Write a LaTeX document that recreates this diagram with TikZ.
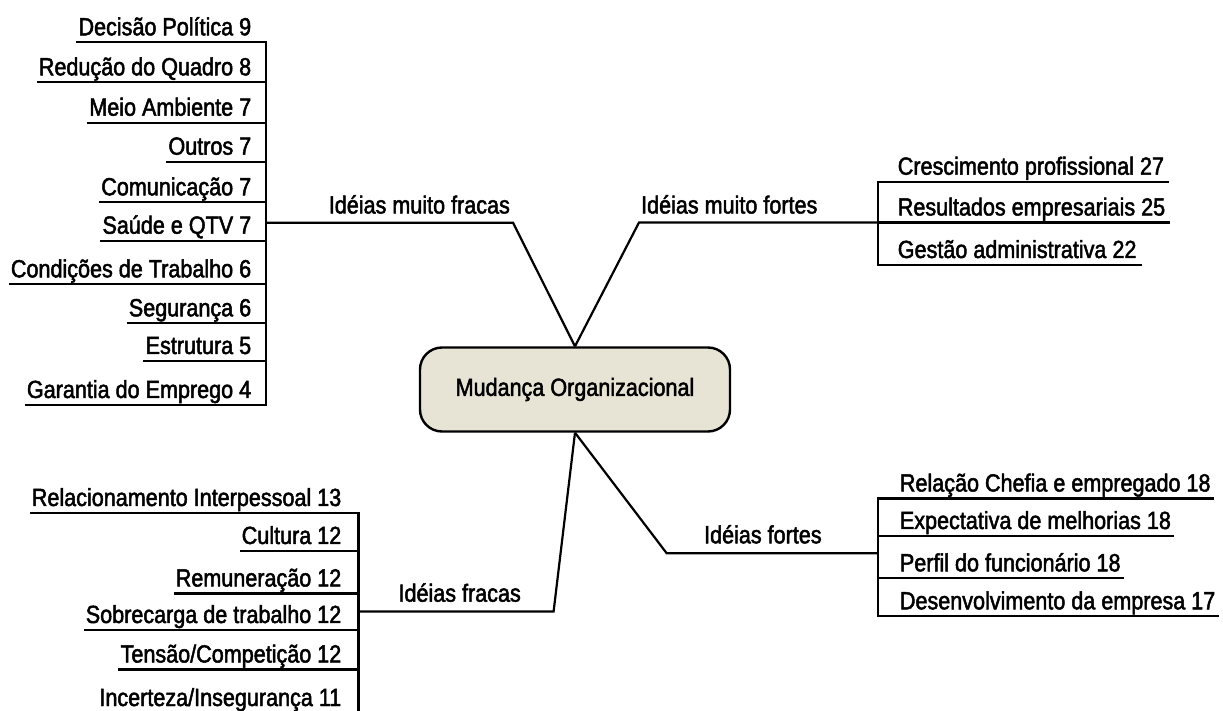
\documentclass[tikz,border=0pt]{standalone}
\usepackage{fontspec}
\setmainfont{Liberation Sans}[FakeStretch=0.87,FakeBold=2]
\definecolor{caixa}{RGB}{231,227,213}

\begin{document}
\begin{tikzpicture}[x=0.5pt,y=-0.5pt,line width=1.1pt,
    every node/.style={font=\fontsize{12.4}{15}\selectfont,inner sep=0pt},
    traco/.style={line cap=rect}]
    \useasboundingbox (0,0) rectangle (1223,711);

    \node[draw,fill=caixa,rounded corners=11pt,line width=1.2pt,
      minimum width=155pt,minimum height=42pt] (mo) at (575,389.5)
      {Mudança Organizacional};

    % Idéias muito fracas
    \foreach \y/\t [count=\i] in {42.3/Decisão Política 9, 82.3/Redução do Quadro 8,
        122.7/Meio Ambiente 7, 161.7/Outros 7, 202.3/Comunicação 7, 240.7/Saúde e QTV 7,
        284.3/Condições de Trabalho 6, 323.3/Segurança 6, 361/Estrutura 5,
        405/Garantia do Emprego 4}{
      \coordinate (mfru\i) at (265.7,\y);
      \node[anchor=base east] (mfr\i) at ([shift={(-13.4,-7)}]mfru\i) {\t};
      \draw[traco] (mfr\i.west |- mfru\i) -- (mfru\i);
    }
    \draw[traco] (mfru1) -- (mfru10);
    \coordinate (mfrc) at (513,222.7);
    \coordinate (mfrb) at (265.7,222.7);
    \draw (mo.north) -- (mfrc) -- (mfrb);
    \node[anchor=base east] (lmfr) at ([shift={(-2,-9.2)}]mfrc) {Idéias muito fracas};

    % Idéias muito fortes
    \foreach \y/\t [count=\i] in {181.7/Crescimento profissional 27,
        222.5/Resultados empresariais 25, 265/Gestão administrativa 22}{
      \coordinate (mftu\i) at (878.3,\y);
      \node[anchor=base west] (mft\i) at ([shift={(18.4,-7)}]mftu\i) {\t};
      \draw[traco] (mftu\i) -- ([xshift=1.5pt]mft\i.east |- mftu\i);
    }
    \draw[traco] (mftu1) -- (mftu3);
    \coordinate (mftc) at (639,222.5);
    \draw (mo.north) -- (mftc) -- (mftu2);
    \node[anchor=base west] (lmft) at ([shift={(1,-9)}]mftc) {Idéias muito fortes};

    % Idéias fracas
    \foreach \y/\t [count=\i] in {513/Relacionamento Interpessoal 13, 551/Cultura 12,
        593.5/Remuneração 12, 630/Sobrecarga de trabalho 12,
        669.5/{Tensão/Competição 12}, 713/{Incerteza/Insegurança 11}}{
      \coordinate (fru\i) at (358.5,\y);
      \node[anchor=base east] (fr\i) at ([shift={(-16.1,-7)}]fru\i) {\t};
      \draw[traco] (fr\i.west |- fru\i) -- (fru\i);
    }
    \draw[traco] (fru1) -- (fru6);
    \coordinate (frc) at (553.6,611.5);
    \coordinate (frb) at (358.5,611.5);
    \draw (mo.south) -- (frc) -- (frb);
    \node[anchor=base west] (lfr) at (397.4,601.7) {Idéias fracas};

    % Idéias fortes
    \foreach \y/\t [count=\i] in {498.5/Relação Chefia e empregado 18,
        536/Expectativa de melhorias 18, 578.3/Perfil do funcionário 18,
        616.3/Desenvolvimento da empresa 17}{
      \coordinate (ftu\i) at (878.3,\y);
      \node[anchor=base west] (ft\i) at ([shift={(20.5,-7)}]ftu\i) {\t};
      \draw[traco] (ftu\i) -- ([xshift=0.5pt]ft\i.east |- ftu\i);
    }
    \draw[traco] (ftu1) -- (ftu4);
    \coordinate (ftc) at (666.7,553.3);
    \coordinate (ftb) at (878.3,553.3);
    \draw (mo.south) -- (ftc) -- (ftb);
    \node[anchor=base west] (lft) at (703,543.3) {Idéias fortes};
\end{tikzpicture}
\end{document}
